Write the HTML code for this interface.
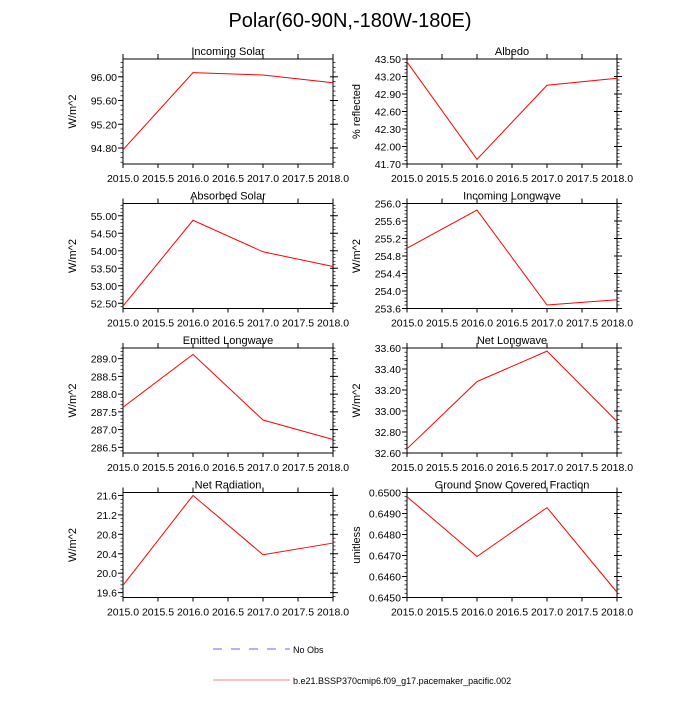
<!DOCTYPE html>
<html><head><meta charset="utf-8"><style>
html,body{margin:0;padding:0;background:#fff;}
svg text{font-family:"Liberation Sans",Arial,sans-serif;fill:#000;}
</style></head><body>
<svg id="fig" width="700" height="700" viewBox="0 0 700 700" xmlns="http://www.w3.org/2000/svg">
<text x="350" y="27" font-size="20" text-anchor="middle">Polar(60-90N,-180W-180E)</text>
<g>
<line x1="213" y1="649" x2="290" y2="649" stroke="#6666ff" stroke-width="1" stroke-dasharray="9,9"/>
<text x="293" y="653" font-size="9">No Obs</text>
<line x1="213" y1="680" x2="290" y2="680" stroke="#f08080" stroke-width="1"/>
<text x="293" y="684" font-size="9">b.e21.BSSP370cmip6.f09_g17.pacemaker_pacific.002</text>
</g>
</svg>
<script>
const years = [2015, 2016, 2017, 2018];
const xTicks = [2015.0, 2015.5, 2016.0, 2016.5, 2017.0, 2017.5, 2018.0];
const titles = ["Incoming Solar","Albedo","Absorbed Solar","Incoming Longwave","Emitted Longwave","Net Longwave","Net Radiation","Ground Snow Covered Fraction"];
const yLabels = ["W/m^2","% reflected","W/m^2","W/m^2","W/m^2","W/m^2","W/m^2","unitless"];
const incomingSolar = [94.77, 96.07, 96.03, 95.90];
const albedo = [43.45, 41.78, 43.05, 43.17];
const absorbedSolar = [52.42, 54.87, 53.97, 53.55];
const incomingLongwave = [254.98, 255.85, 253.68, 253.80];
const emittedLongwave = [287.63, 289.12, 287.27, 286.72];
const netLongwave = [32.64, 33.28, 33.57, 32.90];
const netRadiation = [19.75, 21.60, 20.38, 20.62];
const snowFraction = [0.64980, 0.64695, 0.64928, 0.64525];
const yMins = [94.53, 41.70, 52.35, 253.6, 286.34, 32.60, 19.50, 0.6450];
const yMaxs = [96.30, 43.50, 55.35, 256.0, 289.30, 33.60, 21.66, 0.6500];
const yTickVals = [[94.8,95.2,95.6,96.0],[41.7,42.0,42.3,42.6,42.9,43.2,43.5],[52.5,53.0,53.5,54.0,54.5,55.0],[253.6,254.0,254.4,254.8,255.2,255.6,256.0],[286.5,287.0,287.5,288.0,288.5,289.0],[32.6,32.8,33.0,33.2,33.4,33.6],[19.6,20.0,20.4,20.8,21.2,21.6],[0.645,0.646,0.647,0.648,0.649,0.650]];
const yDecimals = [2,2,2,1,1,2,1,4];
const yMinorStep = [0.08,0.06,0.1,0.08,0.1,0.04,0.08,0.0002];
const series = [incomingSolar, albedo, absorbedSolar, incomingLongwave, emittedLongwave, netLongwave, netRadiation, snowFraction];

const NS = "http://www.w3.org/2000/svg";
const fig = document.getElementById("fig");
function mk(tag, attrs, parent){ const e=document.createElementNS(NS,tag); for(const k in attrs) e.setAttribute(k,attrs[k]); parent.appendChild(e); return e; }

const W = 210, H = 105;
for (let i = 0; i < 8; i++) {
  const col = i % 2, row = Math.floor(i / 2);
  const L = col === 0 ? 123 : 407;
  const T = 59 + row * 144.5;
  const g = mk("g", {}, fig);
  
  
  const xs = v => L + (v - 2015) / 3 * W;
  const ys = v => T + H - (v - yMins[i]) / (yMaxs[i] - yMins[i]) * H;
  const frame = mk("rect", {x:L, y:T, width:W, height:H, fill:"none", stroke:"#000", "stroke-width":1}, g);
  
  
  for (const t of xTicks) {
    const x = xs(t);
    mk("line", {x1:x, y1:T+H, x2:x, y2:T+H+4, stroke:"#000"}, g);
    mk("line", {x1:x, y1:T, x2:x, y2:T-5, stroke:"#000"}, g);
    const lb = mk("text", {x:x, y:T+H+18, "font-size":10.5, "text-anchor":"middle"}, g);
    lb.textContent = t.toFixed(1);
    
    
  }
  for (const t of yTickVals[i]) {
    const y = ys(t);
    mk("line", {x1:L, y1:y, x2:L-5, y2:y, stroke:"#000"}, g);
    mk("line", {x1:L+W-3, y1:y, x2:L+W+5, y2:y, stroke:"#000"}, g);
    const lb = mk("text", {x:L-6, y:y+4, "font-size":10.5, "text-anchor":"end"}, g);
    lb.textContent = t.toFixed(yDecimals[i]);
    
    
  }
  const st = yMinorStep[i];
  for (let k = Math.ceil(yMins[i] / st); k * st <= yMaxs[i] + 1e-9; k++) {
    const y = ys(k * st);
    mk("line", {x1:L, y1:y, x2:L-2.5, y2:y, stroke:"#000", "stroke-width":0.7}, g);
    mk("line", {x1:L+W, y1:y, x2:L+W+2.5, y2:y, stroke:"#000", "stroke-width":0.7}, g);
  }
  const tt = mk("text", {x:L+W/2, y:T-4, "font-size":11, "text-anchor":"middle"}, g);
  tt.textContent = titles[i];
  
  
  const yl = mk("text", {x:0, y:0, "font-size":11, "text-anchor":"middle", transform:`translate(${L-47},${T+H/2}) rotate(-90)`}, g);
  yl.textContent = yLabels[i];
  
  
  const pts = series[i].map((v, j) => xs(years[j]).toFixed(2) + "," + ys(v).toFixed(2)).join(" ");
  const line = mk("polyline", {points:pts, fill:"none", stroke:"#ff0000", "stroke-width":1}, g);
  
  
}
</script>
</body></html>
